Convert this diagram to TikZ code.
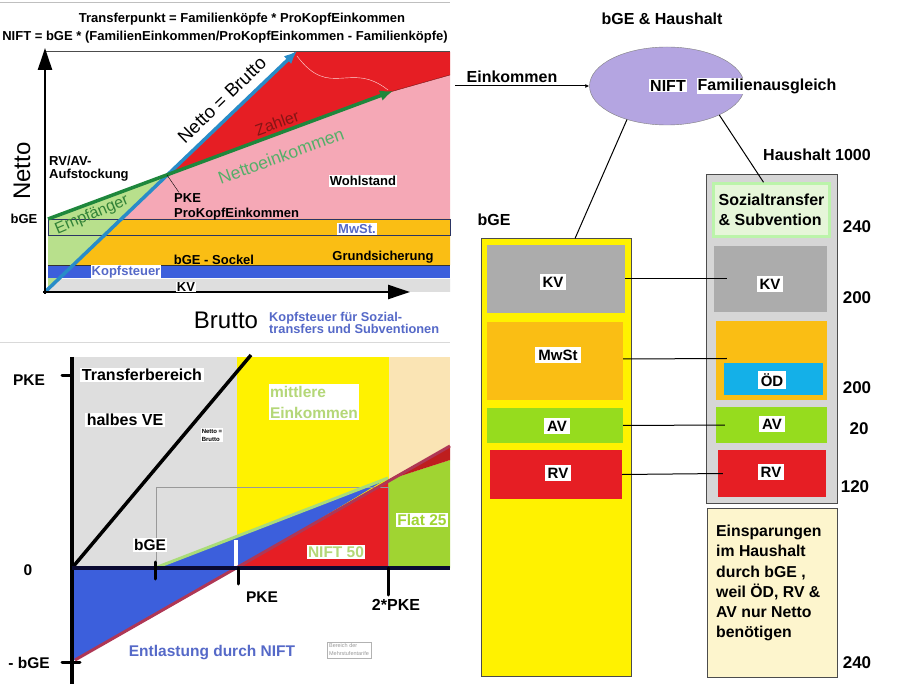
\documentclass[tikz,border=0pt]{standalone}
\usepackage{fontspec}
\setmainfont{Liberation Sans}
\usepackage{tikz}
\usetikzlibrary{arrows.meta,positioning,shapes.geometric}
\definecolor{pinkW}{RGB}{245,168,182}
\definecolor{redZ}{RGB}{230,30,36}
\definecolor{redD}{RGB}{190,30,30}
\definecolor{redP}{RGB}{175,55,85}
\definecolor{greenN}{RGB}{30,135,60}
\definecolor{greenT}{RGB}{85,175,105}
\definecolor{greenE}{RGB}{50,130,55}
\definecolor{lightG}{RGB}{184,224,140}
\definecolor{greenL}{RGB}{170,220,120}
\definecolor{blueB}{RGB}{40,140,200}
\definecolor{blueK}{RGB}{60,95,220}
\definecolor{orangeS}{RGB}{250,190,20}
\definecolor{grayKV}{RGB}{222,222,222}
\definecolor{slate}{RGB}{85,105,200}
\definecolor{yel}{RGB}{255,242,0}
\definecolor{beige}{RGB}{250,228,180}
\definecolor{lime}{RGB}{160,212,50}
\definecolor{navyA}{RGB}{10,10,50}
\definecolor{paleG}{RGB}{180,215,120}
\definecolor{lav}{RGB}{180,165,225}
\definecolor{cyanOD}{RGB}{20,176,232}
\definecolor{cream}{RGB}{253,245,205}
\definecolor{softG}{RGB}{220,242,200}
\definecolor{grayH}{RGB}{214,214,214}
\definecolor{grayM}{RGB}{172,172,172}
\definecolor{greenAV}{RGB}{150,220,30}
\newcommand{\pxf}[1]{\fontsize{#1}{#1}\selectfont}

\begin{document}
\begin{tikzpicture}[x=1pt,y=-1pt,
 lb/.style={font=\bfseries\pxf{13}, inner sep=1pt},
 wl/.style={lb, fill=white},
 big/.style={font=\pxf{24}, inner sep=0pt},
 lb2/.style={font=\bfseries\pxf{15.5}, inner sep=1.5pt},
 wl2/.style={lb2, fill=white},
 col/.style={draw=black!70, line width=1pt, inner sep=0pt},
 part/.style={inner sep=0pt},
 ln/.style={draw=black, line width=1pt},
 tick/.style={line width=3pt, line cap=round}]
\useasboundingbox (0,0) rectangle (913,684);
\fill[white] (0,0) rectangle (913,684);
% ---- Netto / Brutto chart ----
\draw[black!25] (0,2) -- (450,2);
\node[lb] (tf) at (242,19) {Transferpunkt = Familienköpfe * ProKopfEinkommen};
\node[lb] (nf) at (225,37) {NIFT = bGE * (FamilienEinkommen/ProKopfEinkommen - Familienköpfe)};
\fill[pinkW] (121,219) -- (167,175) -- (390,92) -- (450,75) -- (450,219) -- cycle;
\fill[redZ] (167,175) -- (295,52) -- (450,52) -- (450,75) -- (390,92) -- cycle;
\fill[lightG] (48,219) -- (167,175) -- (48,289) -- cycle;
\fill[orangeS] (121,219) -- (450,219) -- (450,265) -- (73,265) -- cycle;
\fill[blueK] (48,265) rectangle (450,278);
\fill[grayKV] (59,279) -- (450,279) -- (450,292) -- (46,292) -- cycle;
\draw[slate!50!black, line width=0.8pt] (48,219) rectangle (450,235);
\draw[black!80, line width=0.8pt] (48,265) -- (450,265);
\draw[pink!50!white] (297,56) .. controls (330,100) and (350,60) .. (388,90);
\draw[redZ!50!black] (390,92) -- (450,75);
\draw[black!70, line width=1pt] (46,52) -- (450,52);
\draw[blueB, line width=3.5pt, -{Latex[length=13pt,width=11pt]}] (45,292) -- (297,51);
\draw[greenN, line width=3.5pt, -{Latex[length=13pt,width=11pt]}] (48,219) -- (393,91);
\draw[line width=2.5pt, -{Triangle[length=22pt,width=14pt]}] (45,294) -- (45,48);
\draw[line width=2.5pt, -{Triangle[length=22pt,width=14pt]}] (43,292) -- (410,292);
\node[big, rotate=90] (ylab) at (22,171) {Netto};
\node[big] (xlab) at (226,320) {Brutto};
\node[lb, font=\bfseries\pxf{12.8}, text=slate, align=left, anchor=west] (kst) at (268,323) {Kopfsteuer für Sozial-\\transfers und Subventionen};
\node[lb, align=left, anchor=west, font=\bfseries\fontsize{13}{13}\selectfont] (rvav) at (48,169) {RV/AV-\\Aufstockung};
\node[lb] (bgeA) at (24,219) {bGE};
\node[lb, align=left, anchor=west, font=\bfseries\fontsize{13}{15}\selectfont] (pke) at (173,207) {PKE\\ProKopfEinkommen};
\coordinate (pkept) at (167,175);
\draw (pkept) -- ([xshift=6pt]pke.north west);
\node[wl] (wohl) at (363,181) {Wohlstand};
\node[wl, text=slate] (mwst) at (357,229) {MwSt.};
\node[lb] (sock) at (214,260) {bGE - Sockel};
\node[lb] (grund) at (383,257) {Grundsicherung};
\node[wl, text=slate] (kopf) at (126,272) {Kopfsteuer};
\node[wl] (kvA) at (186,287) {KV};
\node[font=\pxf{16}, text=greenE, rotate=23, inner sep=0pt] (emp) at (92,215) {Empfänger};
\node[font=\pxf{17.5}, text=greenT, rotate=20, inner sep=0pt] (netto) at (281,156) {Nettoeinkommen};
\node[font=\pxf{16}, text=redD!70!black, rotate=20, inner sep=0pt] (zahl) at (277,123) {Zahler};
\node[font=\pxf{18.5}, rotate=44, inner sep=0pt] (nb) at (222,100) {Netto = Brutto};
% ---- NIFT chart ----
\draw[black!15] (0,342) -- (450,342);
\fill[grayKV] (72,357) rectangle (237,568);
\fill[yel] (237,357) rectangle (389,568);
\fill[beige] (389,357) rectangle (450,568);
\fill[lime] (388,480) -- (450,460) -- (450,568) -- (388,568) -- cycle;
\fill[redD] (388,480) -- (450,446) -- (450,460) -- cycle;
\fill[blueK] (155,568) -- (388,478) -- (238,568) -- cycle;
\fill[redZ] (238,568) -- (388,482) -- (388,568) -- cycle;
\fill[blueK] (72,568) -- (238,568) -- (75,660) -- (72,660) -- cycle;
\fill[white] (234,540) rectangle (238,566);
\draw[black!40] (156,568) -- (156,487) -- (388,487) -- (388,568);
\draw[greenL, line width=3pt] (155,568) -- (388,478);
\draw[redP, line width=3pt] (75,660) -- (450,446);
\draw[line width=3.5pt] (72,568) -- (251,355);
\draw[line width=4pt] (72,357) -- (72,684);
\draw[navyA, line width=4pt] (72,568) -- (450,568);
\draw[tick] (155,562) -- (155,579);
\draw[tick] (238,568) -- (238,584);
\draw[tick] (388,568) -- (388,595);
\draw[tick] (62,376) -- (72,376);
\draw[tick] (62,662) -- (80,662);
\node[lb2] (pkeY) at (29,380) {PKE};
\node[wl2, font=\bfseries\pxf{16}] (trans) at (142,375) {Transferbereich};
\node[wl2, font=\bfseries\pxf{16}] (halb) at (125,420) {halbes VE};
\node[fill=white, font=\bfseries\fontsize{6}{8}\selectfont, align=left, inner sep=1pt] (nbs) at (212,435) {Netto =\\Brutto};
\node[wl2, text=paleG, align=left, font=\bfseries\fontsize{15.5}{21}\selectfont] (mitt) at (314,402) {mittlere\\Einkommen};
\node[wl2, text=lime] (flat) at (422,520) {Flat 25};
\node[wl2, text=paleG] (nift50) at (336,552) {NIFT 50};
\node[wl2] (bgeB) at (150,545) {bGE};
\node[lb2] (zero) at (28,570) {0};
\node[lb2] (pkeX) at (262,597) {PKE};
\node[lb2, font=\bfseries\pxf{16}] (pke2) at (396,605) {2*PKE};
\node[lb2] (mbge) at (29,663) {- bGE};
\node[lb2, text=slate] (entl) at (212,653) {Entlastung durch NIFT};
\node[draw=black!30, text=black!40, font=\fontsize{5.5}{8}\selectfont, align=left, inner sep=2pt] (mst) at (349,650) {Bereich der\\Mehrstufentarife};
% ---- bGE & Haushalt ----
\node[lb, font=\bfseries\pxf{16}] (head) at (662,19) {bGE \& Haushalt};
\node[ellipse, draw=black!50, fill=lav, minimum width=155pt, minimum height=78pt] (nift) at (667,86) {};
\node[wl, font=\bfseries\pxf{16}] (niftL) at (668,86) {NIFT};
\node[wl, font=\bfseries\pxf{16}] (fam) at (767,86) {Familienausgleich};
\node[lb, font=\bfseries\pxf{16}] (eink) at (512,77) {Einkommen};
\coordinate (einkIn) at (455,86);
\draw[ln, -{Latex[length=4pt,width=4pt]}] (einkIn) -- (nift.west);
\node[lb, font=\bfseries\pxf{16}] (haus) at (817,155) {Haushalt 1000};
\node[lb, font=\bfseries\pxf{16}] (bgeC) at (494,220) {bGE};
% bGE column
\node[col, fill=yel, minimum width=150pt, minimum height=437pt] (bcol) at (556,457.5) {};
\node[part, fill=grayM, minimum width=138pt, minimum height=68pt] (bkv) at (556,279) {};
\node[part, fill=orangeS, minimum width=136pt, minimum height=78pt] (bmw) at (555,361) {};
\node[part, fill=greenAV, minimum width=136pt, minimum height=35pt] (bav) at (555,425.5) {};
\node[part, fill=redZ, minimum width=132pt, minimum height=49pt] (brv) at (556,474.5) {};
\node[wl, font=\bfseries\pxf{15}, inner sep=3pt] (bkvL) at (553,282) {KV};
\node[wl, font=\bfseries\pxf{15}, inner sep=3pt] (bmwL) at (558,355) {MwSt};
\node[wl, font=\bfseries\pxf{15}, inner sep=3pt] (bavL) at (557,426) {AV};
\node[wl, font=\bfseries\pxf{15}, inner sep=3pt] (brvL) at (558,473) {RV};
% Haushalt column
\node[col, fill=grayH, minimum width=131pt, minimum height=328pt] (hcol) at (771.5,339) {};
\node[part, fill=softG!70!white, draw=softG!85!green, line width=2.5pt, minimum width=116pt, minimum height=53pt, align=left, font=\bfseries\fontsize{16}{20}\selectfont] (soz) at (771.5,210) {Sozialtransfer\\\& Subvention};
\node[part, fill=grayM, minimum width=113pt, minimum height=66pt] (hkv) at (770.5,279) {};
\node[part, fill=orangeS, minimum width=111pt, minimum height=79pt] (hor) at (771.5,360.5) {};
\node[part, fill=cyanOD, minimum width=99pt, minimum height=32pt] (hod) at (773.5,379) {};
\node[part, fill=greenAV, minimum width=111pt, minimum height=36pt] (hav) at (771.5,425) {};
\node[part, fill=redZ, minimum width=108pt, minimum height=47pt] (hrv) at (772,473.5) {};
\node[wl, font=\bfseries\pxf{15}, inner sep=3pt] (hkvL) at (770,284) {KV};
\node[wl, font=\bfseries\pxf{15}, inner sep=3pt] (hodL) at (772,380) {ÖD};
\node[wl, font=\bfseries\pxf{15}, inner sep=3pt] (havL) at (772,424) {AV};
\node[wl, font=\bfseries\pxf{15}, inner sep=3pt] (hrvL) at (771,472) {RV};
\node[col, fill=cream, minimum width=130pt, minimum height=169pt] (spar) at (772,592.5) {};
\node[lb, anchor=north west, align=left, font=\bfseries\fontsize{15.8}{20.2}\selectfont] (sparT) at (715,524) {Einsparungen\\im Haushalt\\durch bGE ,\\weil ÖD, RV \&\\AV nur Netto\\benötigen};
% numbers
\node[lb, font=\bfseries\pxf{17}] (n1) at (857,227) {240};
\node[lb, font=\bfseries\pxf{17}] (n2) at (857,298) {200};
\node[lb, font=\bfseries\pxf{17}] (n3) at (857,388) {200};
\node[lb, font=\bfseries\pxf{17}] (n4) at (859,429) {20};
\node[lb, font=\bfseries\pxf{17}] (n5) at (855,487) {120};
\node[lb, font=\bfseries\pxf{17}] (n6) at (857,663) {240};
% connectors
\draw[ln] (nift.220) -- ([xshift=19pt]bcol.north);
\draw[ln] (nift.331) -- ([xshift=-8pt]soz.north);
\draw[ln] (bkv.east) -- ([xshift=13pt]hkv.west);
\draw[ln] ([yshift=2pt]bmw.east) -- ([xshift=11pt,yshift=2pt]hor.west);
\draw[ln] (bav.east) -- ([xshift=9pt]hav.west);
\draw[ln] (brv.east) -- ([xshift=5pt]hrv.west);
\end{tikzpicture}
\end{document}
